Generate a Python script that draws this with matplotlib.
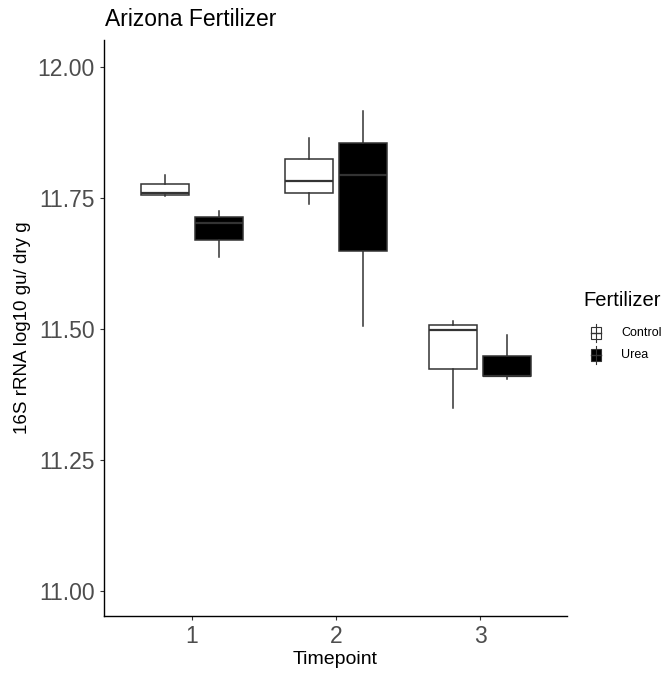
import matplotlib
matplotlib.use("Agg")
import matplotlib.pyplot as plt
from matplotlib.patches import Rectangle
from matplotlib.lines import Line2D

plt.rcParams['font.family'] = ['Liberation Sans', 'DejaVu Sans']

timepoints = ["1", "2", "3"]
groups = ["Control", "Urea"]

# box summary stats per timepoint
control_whislo = [11.754, 11.738, 11.349]
control_q1 = [11.757, 11.760, 11.424]
control_med = [11.760, 11.782, 11.499]
control_q3 = [11.778, 11.824, 11.508]
control_whishi = [11.795, 11.864, 11.516]

urea_whislo = [11.638, 11.506, 11.405]
urea_q1 = [11.670, 11.649, 11.410]
urea_med = [11.702, 11.794, 11.411]
urea_q3 = [11.714, 11.856, 11.449]
urea_whishi = [11.725, 11.916, 11.489]

yticks = [11.00, 11.25, 11.50, 11.75, 12.00]

W, H = 665, 673
fig = plt.figure(figsize=(W / 100, H / 100), dpi=100)
ax = fig.add_axes([104 / W, 1 - 615.7 / H, (566.7 - 104) / W, (615.7 - 40) / H])

edge = "#333333"

def stats(lo, q1, med, q3, hi):
    return [dict(whislo=a, q1=b, med=c, q3=d, whishi=e, fliers=[])
            for a, b, c, d, e in zip(lo, q1, med, q3, hi)]

sets = [
    (stats(control_whislo, control_q1, control_med, control_q3, control_whishi), "white", -0.1875),
    (stats(urea_whislo, urea_q1, urea_med, urea_q3, urea_whishi), "black", 0.1875),
]
for st, fc, off in sets:
    pos = [i + 1 + off for i in range(len(timepoints))]
    ax.bxp(st, positions=pos, widths=0.3375, patch_artist=True, showcaps=False,
           boxprops=dict(facecolor=fc, edgecolor=edge, linewidth=1.1),
           medianprops=dict(color=edge, linewidth=1.6),
           whiskerprops=dict(color=edge, linewidth=1.1),
           manage_ticks=False)

ax.set_xlim(0.389, 3.602)
ax.set_ylim(10.953, 12.052)
ax.set_xticks([1, 2, 3])
ax.set_xticklabels(timepoints)
ax.set_yticks(yticks)
ax.set_yticklabels([f"{v:.2f}" for v in yticks])
ax.tick_params(axis='both', colors="#333333", labelcolor="#4D4D4D", labelsize=16.5,
               length=3, width=0.8)
for s in ["top", "right"]:
    ax.spines[s].set_visible(False)
for s in ["left", "bottom"]:
    ax.spines[s].set_color("black")
    ax.spines[s].set_linewidth(1.0)

ax.set_xlabel("Timepoint", fontsize=14, color="black", labelpad=2)
ax.set_ylabel("16S rRNA log10 gu/ dry g", fontsize=13.5, color="black", labelpad=5)
fig.text(105 / W, 1 - 20 / H, "Arizona Fertilizer", fontsize=16.5, ha="left", va="center")

# legend
fig.text(583 / W, 1 - 301 / H, "Fertilizer", fontsize=14.5, ha="left", va="center")
keys = [("Control", "white", 332.7), ("Urea", "black", 355)]
for lab, fc, yc in keys:
    x0, x1 = 590.5, 600.5
    hh = 6
    fig.add_artist(Line2D([(x0 + x1) / 2 / W] * 2, [1 - (yc - 9) / H, 1 - (yc + 9) / H],
                          color=edge, lw=0.8, transform=fig.transFigure))
    fig.add_artist(Rectangle((x0 / W, 1 - (yc + hh) / H), (x1 - x0) / W, 2 * hh / H,
                             facecolor=fc, edgecolor=edge, lw=0.8, transform=fig.transFigure))
    fig.add_artist(Line2D([x0 / W, x1 / W], [1 - yc / H] * 2, color=edge, lw=1.0,
                          transform=fig.transFigure))
    fig.text(621 / W, 1 - yc / H, lab, fontsize=9, ha="left", va="center")

fig.savefig("out.png", dpi=100)
